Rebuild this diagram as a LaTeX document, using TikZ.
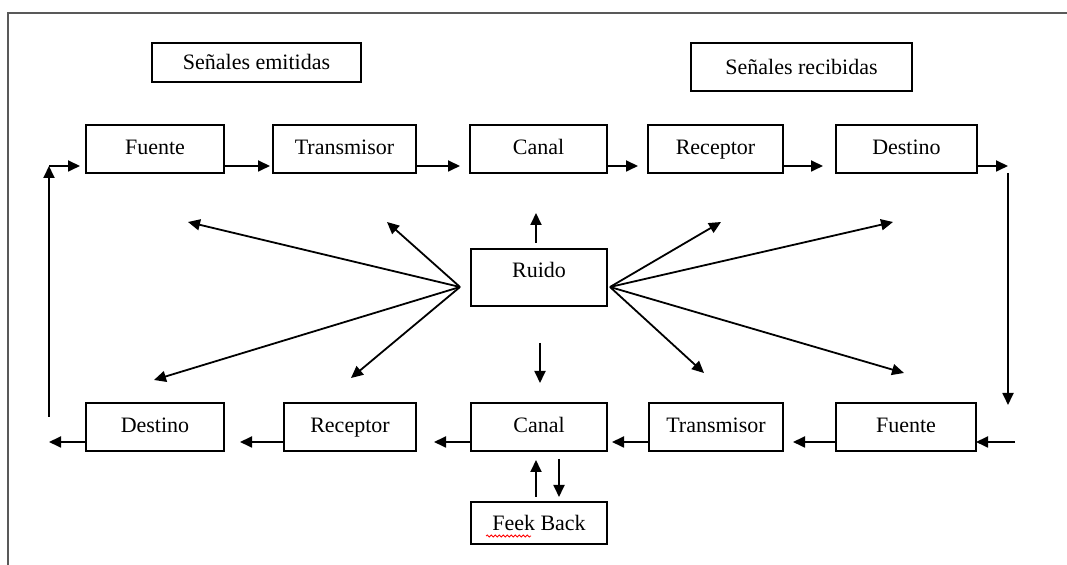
\documentclass[tikz,border=0pt]{standalone}
\usepackage{fontspec}
\setmainfont{Liberation Serif}
\usetikzlibrary{arrows.meta,decorations.pathmorphing}
\tikzset{
caja/.style={draw,line width=0.9pt,inner sep=0pt,outer sep=0pt,minimum height=24pt,text height=7.5pt,text depth=2pt,font=\fontsize{11}{13}\selectfont},
flecha/.style={-{Triangle[length=6pt,width=5.5pt]},line width=0.9pt},
}
\begin{document}
\begin{tikzpicture}[x=0.5pt,y=-0.5pt]
\useasboundingbox(0,0)rectangle(1067,565);
\draw[line width=0.9pt,black!65](8,565)--(8,13)--(1067,13);
%
\node[caja,minimum width=104.5pt,minimum height=19.5pt,text depth=0pt](emit)at(256.5,62.5){Señales emitidas};
\node[caja,minimum width=110.5pt,text depth=0pt](reci)at(801.5,67){Señales recibidas};
% fila de arriba
\node[caja,minimum width=69pt](fuenteA)at(155,149){Fuente};
\node[caja,minimum width=71.5pt](transA)at(344.5,149){Transmisor};
\node[caja,minimum width=68.5pt](canalA)at(538.5,149){Canal};
\node[caja,minimum width=67.5pt](recepA)at(715.5,149){Receptor};
\node[caja,minimum width=70.5pt](destA)at(906.5,149){Destino};
% fila de abajo
\node[caja,minimum width=69pt](destB)at(155,427){Destino};
\node[caja,minimum width=66pt](recepB)at(350,427){Receptor};
\node[caja,minimum width=68pt](canalB)at(539,427){Canal};
\node[caja,minimum width=67pt](transB)at(716,427){Transmisor};
\node[caja,minimum width=70pt](fuenteB)at(906,427){Fuente};
%
\node[caja,minimum width=68pt,minimum height=28.5pt,text depth=7.5pt](ruido)at(539,277.5){Ruido};
\node[caja,minimum width=68pt,minimum height=21pt,text depth=0pt](fb)at(539,523){Feek Back};
\draw[red,line width=0.4pt,decorate,decoration={snake,amplitude=0.5pt,segment length=2pt}]([xshift=7.5pt,yshift=4pt]fb.south west)--([xshift=30pt,yshift=4pt]fb.south west);
%
\coordinate(d1)at(1008,166);
\coordinate(d2)at(1008,173);
\coordinate(d3)at(1008,405);
\coordinate(d4)at(1015,442);
\coordinate(i1)at(49,442);
\coordinate(i2)at(49,417);
\coordinate(i3)at(49,166);
\draw[flecha,shorten >=1.5pt]([yshift=3.5pt]fuenteA.south east)--([yshift=3.5pt]transA.south west);
\draw[flecha,shorten >=5pt]([yshift=3.5pt]transA.south east)--([yshift=3.5pt]canalA.south west);
\draw[flecha,shorten >=5pt]([yshift=3.5pt]canalA.south east)--([yshift=3.5pt]recepA.south west);
\draw[flecha,shorten >=6.5pt]([yshift=3.5pt]recepA.south east)--([yshift=3.5pt]destA.south west);
\draw[flecha]([yshift=3.5pt]destA.south east)--(d1);
\draw[flecha](d2)--(d3);
\draw[flecha](d4)--([yshift=4.5pt]fuenteB.south east);
\draw[flecha,shorten >=5pt]([yshift=4.5pt]fuenteB.south west)--([yshift=4.5pt]transB.south east);
\draw[flecha,shorten >=2.5pt]([yshift=4.5pt]transB.south west)--([yshift=4.5pt]canalB.south east);
\draw[flecha,shorten >=9pt]([yshift=4.5pt]canalB.south west)--([yshift=4.5pt]recepB.south east);
\draw[flecha,shorten >=8pt]([yshift=4.5pt]recepB.south west)--([yshift=4.5pt]destB.south east);
\draw[flecha]([yshift=4.5pt]destB.south west)--(i1);
\draw[flecha](i2)--(i3);
\draw[flecha,shorten >=3pt](i3)--([yshift=3.5pt]fuenteA.south west);
% ruido
\coordinate(rl)at(460,287);
\coordinate(rr)at(610,287);
\foreach \x/\y [count=\i] in {188/222,387/222,154/380,351/378}
  {\coordinate(a\i)at(\x,\y); \draw[flecha](rl)--(a\i);}
\foreach \x/\y [count=\i] in {721/222,893/222,704/373,904/373}
  {\coordinate(b\i)at(\x,\y); \draw[flecha](rr)--(b\i);}
\coordinate(u1)at(536,213);
\coordinate(v1)at(540,343);
\coordinate(v2)at(540,383);
\draw[flecha,shorten <=3pt]([xshift=-1.5pt]ruido.north)--(u1);
\draw[flecha](v1)--(v2);
% feek back
\draw[flecha,shorten <=2.5pt,shorten >=4.5pt]([xshift=-1.5pt]fb.north)--([xshift=-1.5pt]canalB.south);
\draw[flecha,shorten <=4pt,shorten >=2.5pt]([xshift=10pt]canalB.south)--([xshift=10pt]fb.north);
\end{tikzpicture}
\end{document}
